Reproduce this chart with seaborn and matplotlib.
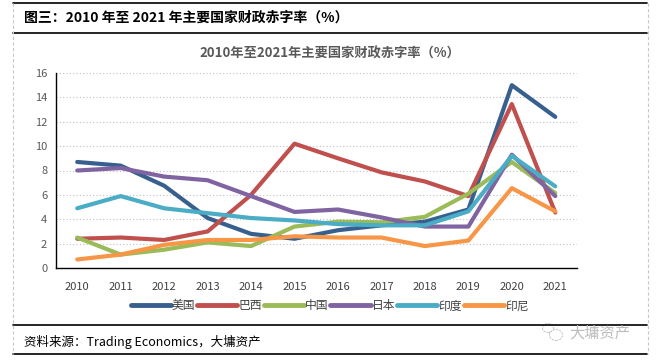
import numpy as np
import pandas as pd
import matplotlib
matplotlib.use("Agg")
import matplotlib.pyplot as plt
from matplotlib.lines import Line2D
from matplotlib.patches import Ellipse
import seaborn as sns

# deficit ratios (%)
years = list(range(2010, 2022))
us = [8.7, 8.4, 6.75, 4.1, 2.8, 2.4, 3.1, 3.5, 3.8, 4.8, 15.0, 12.4]
brazil = [2.4, 2.5, 2.3, 3.0, 6.0, 10.2, 9.0, 7.85, 7.1, 5.9, 13.45, 4.55]
china = [2.5, 1.1, 1.5, 2.1, 1.8, 3.4, 3.8, 3.75, 4.2, 6.1, 8.7, 6.15]
japan = [8.0, 8.2, 7.5, 7.2, 5.9, 4.6, 4.8, 4.15, 3.4, 3.4, 9.3, 5.9]
india = [4.9, 5.9, 4.9, 4.5, 4.1, 3.9, 3.6, 3.5, 3.5, 4.65, 9.2, 6.7]
indonesia = [0.7, 1.1, 1.9, 2.3, 2.3, 2.6, 2.5, 2.5, 1.8, 2.25, 6.55, 4.65]

countries = ["美国", "巴西", "中国", "日本", "印度", "印尼"]
colors = ["#37608F", "#C0504D", "#9BBB59", "#8064A2", "#4BACC6", "#F79646"]

df = pd.DataFrame({"year": years, "美国": us, "巴西": brazil, "中国": china,
                   "日本": japan, "印度": india, "印尼": indonesia})
long = df.melt(id_vars="year", var_name="country", value_name="value")

sns.set_style("white")
plt.rcParams['font.family'] = ['Noto Sans CJK SC', 'DejaVu Sans']

fig = plt.figure(figsize=(6.59, 3.62), dpi=100)
W, H = 659, 362
ax = fig.add_axes([55.5 / W, 1 - 268 / H, (577 - 55.5) / W, 195 / H])

sns.lineplot(data=long, x="year", y="value", hue="country", hue_order=countries,
             palette=colors, linewidth=3.0, ax=ax, legend=False,
             solid_capstyle="round", solid_joinstyle="round")

ax.set_xlim(2009.5, 2021.5)
ax.set_ylim(0, 16)
ax.set_yticks(np.arange(0, 17, 2))
ax.set_xticks(years)
ax.set_xticks(np.arange(2009.5, 2022, 1), minor=True)
ax.tick_params(axis="x", which="major", length=0, pad=10, labelsize=8, colors="#404040")
ax.tick_params(axis="x", which="minor", length=4, width=1, color="black", direction="out")
ax.tick_params(axis="y", length=4, width=1, color="black", labelsize=8, labelcolor="#595959", pad=2)
ax.set_xlabel("")
ax.set_ylabel("")
ax.grid(axis="y", linestyle=(0, (1, 2)), color="#BFBFBF", linewidth=0.8)
ax.set_axisbelow(True)
for s in ["top", "right"]:
    ax.spines[s].set_visible(False)
for s in ["left", "bottom"]:
    ax.spines[s].set_color("black")
    ax.spines[s].set_linewidth(1)

handles = [Line2D([0], [0], color=c, linewidth=3.5, solid_capstyle="round") for c in colors]
fig.legend(handles, countries, loc="center", bbox_to_anchor=(0.5, 1 - 306 / H), ncol=6,
           frameon=False, fontsize=8.5, handlelength=3.4, handletextpad=0.1,
           columnspacing=0.15, labelcolor="#404040")

fig.text(330 / W, 1 - 54 / H, "2010年至2021年主要国家财政赤字率（%）", ha="center", va="center",
         fontsize=9.5, fontweight="bold", color="#595959")

# report frame
for y in [3, 33, 325, 354]:
    fig.add_artist(Line2D([13 / W, 647 / W], [1 - y / H, 1 - y / H], color="black", linewidth=1.2))
for x in [12.5, 647.5]:
    fig.add_artist(Line2D([x / W, x / W], [1 - 3 / H, 1 - 354 / H], color="#C8C8C8",
                          linewidth=0.8, linestyle=(0, (3, 2))))

fig.text(24 / W, 1 - 18 / H, "图三：2010 年至 2021 年主要国家财政赤字率（%）", ha="left", va="center",
         fontsize=10, fontweight="bold", color="black")
fig.text(24 / W, 1 - 342 / H, "资料来源：Trading Economics，大墉资产", ha="left", va="center",
         fontsize=9, color="black")

# watermark
for cx, cy, w, h in [(548, 328, 11, 9), (556, 335, 13, 11)]:
    fig.add_artist(Ellipse((cx / W, 1 - cy / H), w / W, h / H, fill=True, facecolor="white",
                           edgecolor="#C8C8C8", linewidth=0.8, linestyle=(0, (2, 1))))
fig.text(569 / W, 1 - 333 / H, "大墉资产", ha="left", va="center",
         fontsize=11, color="#BDBDBD")

fig.savefig("out.png", dpi=100)
